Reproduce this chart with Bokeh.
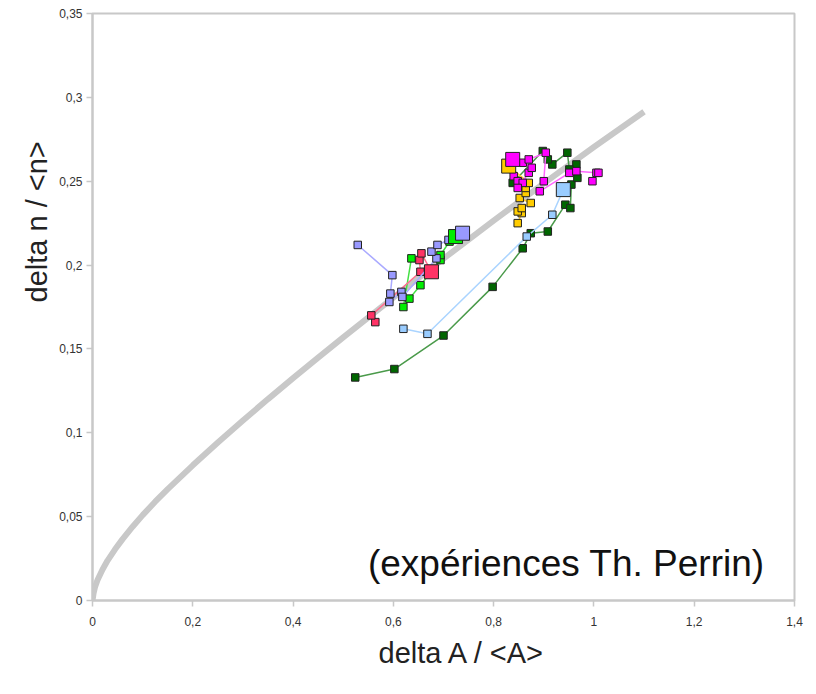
from bokeh.plotting import figure
from bokeh.models import Range1d, FixedTicker, CustomJSTickFormatter, Label, Title
from bokeh.embed import file_html
from bokeh.resources import INLINE

# ---- data ----
x_ticks = [0, 0.2, 0.4, 0.6, 0.8, 1, 1.2, 1.4]
x_tick_labels = ["0", "0,2", "0,4", "0,6", "0,8", "1", "1,2", "1,4"]
y_ticks = [0, 0.05, 0.1, 0.15, 0.2, 0.25, 0.3, 0.35]
y_tick_labels = ["0", "0,05", "0,1", "0,15", "0,2", "0,25", "0,3", "0,35"]

curve_x = [0, 0.002, 0.005, 0.01, 0.02, 0.03, 0.045, 0.06, 0.08, 0.1, 0.125, 0.15, 0.2, 0.25,
           0.3, 0.35, 0.4, 0.45, 0.5, 0.6, 0.7, 0.8, 0.9, 1.0, 1.1]
curve_y = [0, 0.0042, 0.0080, 0.0122, 0.0185, 0.0238, 0.0305, 0.0366, 0.0440, 0.0509, 0.0589, 0.0664,
           0.0806, 0.0942, 0.1073, 0.1201, 0.1326, 0.1448, 0.1569, 0.1806, 0.2038, 0.2265, 0.2487,
           0.2704, 0.2914]

dkgreen_x = [0.524, 0.602, 0.700, 0.798, 0.858, 0.874, 0.908, 0.943, 0.953, 0.955, 0.967, 0.965, 0.951, 0.947, 0.917, 0.908, 0.898, 0.838]
dkgreen_y = [0.133, 0.138, 0.158, 0.187, 0.210, 0.219, 0.220, 0.236, 0.234, 0.248, 0.252, 0.260, 0.257, 0.267, 0.260, 0.263, 0.268, 0.249]

ltblue_x = [0.620, 0.668, 0.866, 0.917, 0.939]
ltblue_y = [0.162, 0.159, 0.217, 0.230, 0.245]

orange_x = [0.848, 0.856, 0.848, 0.856, 0.874, 0.852, 0.864, 0.864, 0.870, 0.830]
orange_y = [0.225, 0.231, 0.232, 0.234, 0.237, 0.240, 0.243, 0.246, 0.249, 0.259]

magenta_x = [0.838, 0.840, 0.848, 0.858, 0.848, 0.870, 0.876, 0.858, 0.870, 0.904, 0.900, 0.892, 0.951, 0.965, 1.005, 1.009, 0.997]
magenta_y = [0.263, 0.253, 0.250, 0.249, 0.246, 0.255, 0.258, 0.261, 0.263, 0.267, 0.250, 0.244, 0.255, 0.256, 0.255, 0.255, 0.250]

green_x = [0.636, 0.620, 0.632, 0.654, 0.694, 0.694, 0.712, 0.724]
green_y = [0.204, 0.175, 0.180, 0.188, 0.203, 0.206, 0.214, 0.217]

red_x = [0.564, 0.556, 0.654, 0.652, 0.656, 0.676]
red_y = [0.166, 0.170, 0.196, 0.203, 0.207, 0.196]

lav_x = [0.529, 0.598, 0.594, 0.592, 0.616, 0.618, 0.686, 0.676, 0.688, 0.710, 0.738]
lav_y = [0.212, 0.194, 0.183, 0.178, 0.184, 0.181, 0.204, 0.208, 0.212, 0.215, 0.219]

FONT = "Liberation Sans"

p = figure(width=816, height=694, x_range=Range1d(0, 1.4), y_range=Range1d(0, 0.35),
           output_backend="svg", toolbar_location=None,
           min_border_left=92, min_border_right=22, min_border_top=13, min_border_bottom=94)
p.grid.visible = False
p.background_fill_color = "white"
p.border_fill_color = "white"
p.outline_line_color = "#c8c8c8"
p.outline_line_width = 2

fmt_code = """
const i = tv.findIndex(t => Math.abs(t - tick) < 1e-9);
return i >= 0 ? tl[i] : '';
"""
p.xaxis.ticker = FixedTicker(ticks=x_ticks)
p.xaxis.formatter = CustomJSTickFormatter(args=dict(tv=x_ticks, tl=x_tick_labels), code=fmt_code)
p.yaxis.ticker = FixedTicker(ticks=y_ticks)
p.yaxis.formatter = CustomJSTickFormatter(args=dict(tv=y_ticks, tl=y_tick_labels), code=fmt_code)
for ax in (p.xaxis, p.yaxis):
    ax.axis_line_color = "#c8c8c8"
    ax.axis_line_width = 2
    ax.major_tick_line_color = "#c8c8c8"
    ax.major_tick_line_width = 1.5
    ax.major_tick_in = 0
    ax.major_tick_out = 6
    ax.minor_tick_line_color = None
    ax.major_label_text_font = FONT
    ax.major_label_text_font_size = "12px"
    ax.major_label_text_color = "#333333"
p.xaxis.major_label_standoff = 10
p.yaxis.major_label_standoff = 4

# theoretical curve
p.line(curve_x, curve_y, line_color="#c8c8c8", line_width=6)

series = [
    (dkgreen_x, dkgreen_y, "#006600", "#4a9a4a", None),
    (ltblue_x, ltblue_y, "#99ccff", "#aad4ff", -1),
    (orange_x, orange_y, "#ffcc00", "#ffcc33", -1),
    (magenta_x, magenta_y, "#ff00ff", "#ff66ff", 0),
    (green_x, green_y, "#00ee00", "#44e044", -1),
    (red_x, red_y, "#ff3366", "#ff6f8f", -1),
    (lav_x, lav_y, "#9999ff", "#aaaaff", -1),
]
for xs, ys, fill, line, big in series:
    p.line(xs, ys, line_color=line, line_width=1.5)
    idx = [i for i in range(len(xs)) if big is None or i != (big % len(xs))]
    p.scatter([xs[i] for i in idx], [ys[i] for i in idx], marker="square", size=7.5,
              fill_color=fill, line_color="#222222", line_width=1)
for xs, ys, fill, line, big in series:
    if big is not None:
        p.scatter([xs[big]], [ys[big]], marker="square", size=14,
                  fill_color=fill, line_color="#222222", line_width=1)

p.add_layout(Label(x=0.945, y=0.022, text="(expériences Th. Perrin)", text_font=FONT,
                   text_font_size="37px", text_color="#111111", text_align="center",
                   text_baseline="alphabetic"))

p.add_layout(Title(text="delta A / <A>", align="left", offset=286, standoff=12,
                   text_font=FONT, text_font_size="29px", text_font_style="normal",
                   text_color="#222222"), "below")
p.add_layout(Title(text="delta n / <n>", align="left", offset=298, standoff=8,
                   text_font=FONT, text_font_size="29px", text_font_style="normal",
                   text_color="#222222"), "left")

open("out.html", "w").write(file_html(p, INLINE))
